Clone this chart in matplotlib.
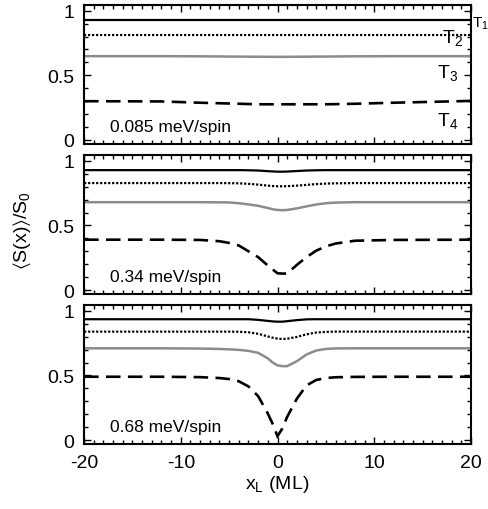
import numpy as np
import matplotlib
matplotlib.use("Agg")
import matplotlib.pyplot as plt
from matplotlib.ticker import MultipleLocator

plt.rcParams['font.family'] = ['Liberation Sans', 'DejaVu Sans']
plt.rcParams['mathtext.fontset'] = 'custom'
plt.rcParams['mathtext.rm'] = 'Liberation Sans'
plt.rcParams['mathtext.default'] = 'regular'
plt.rcParams['axes.unicode_minus'] = False

# position x_L (ML), shared by all curves
x = [-20, -12, -8, -6, -5, -4, -3, -2, -1, -0.5, 0, 0.5, 1, 2, 3, 4, 5, 6, 8, 12, 20]

# panel 1: 0.085 meV/spin
p1_T1 = [0.925] * 21
p1_T2 = [0.815] * 21
p1_T3 = [0.648, 0.648, 0.647, 0.646, 0.645, 0.645, 0.644, 0.644, 0.643, 0.643, 0.643,
         0.643, 0.643, 0.644, 0.644, 0.645, 0.645, 0.646, 0.647, 0.648, 0.648]
p1_T4 = [0.300, 0.298, 0.288, 0.284, 0.282, 0.280, 0.278, 0.276, 0.276, 0.276, 0.276,
         0.276, 0.276, 0.276, 0.276, 0.276, 0.276, 0.277, 0.280, 0.288, 0.302]

# panel 2: 0.34 meV/spin
p2_T1 = [0.928, 0.928, 0.928, 0.928, 0.928, 0.928, 0.927, 0.925, 0.920, 0.918, 0.916,
         0.916, 0.917, 0.921, 0.925, 0.927, 0.928, 0.928, 0.928, 0.928, 0.928]
p2_T2 = [0.828, 0.828, 0.828, 0.828, 0.827, 0.826, 0.822, 0.816, 0.808, 0.805, 0.803,
         0.803, 0.804, 0.808, 0.814, 0.820, 0.824, 0.826, 0.828, 0.828, 0.828]
p2_T3 = [0.680, 0.680, 0.680, 0.679, 0.678, 0.672, 0.663, 0.652, 0.635, 0.625, 0.620,
         0.618, 0.620, 0.632, 0.648, 0.662, 0.672, 0.677, 0.680, 0.680, 0.680]
p2_T4 = [0.390, 0.390, 0.388, 0.378, 0.365, 0.345, 0.300, 0.255, 0.190, 0.160, 0.130,
         0.128, 0.128, 0.195, 0.255, 0.305, 0.338, 0.360, 0.382, 0.388, 0.390]

# panel 3: 0.68 meV/spin
p3_T1 = [0.935, 0.935, 0.935, 0.935, 0.935, 0.935, 0.935, 0.930, 0.922, 0.918, 0.916,
         0.916, 0.920, 0.928, 0.934, 0.935, 0.935, 0.935, 0.935, 0.935, 0.935]
p3_T2 = [0.839, 0.839, 0.839, 0.839, 0.839, 0.838, 0.834, 0.822, 0.802, 0.792, 0.785,
         0.782, 0.784, 0.798, 0.818, 0.832, 0.837, 0.839, 0.839, 0.839, 0.839]
p3_T3 = [0.710, 0.710, 0.708, 0.705, 0.702, 0.698, 0.690, 0.675, 0.632, 0.600, 0.578,
         0.572, 0.572, 0.610, 0.662, 0.693, 0.705, 0.709, 0.710, 0.710, 0.710]
p3_T4 = [0.490, 0.490, 0.487, 0.480, 0.472, 0.455, 0.415, 0.340, 0.205, 0.125, 0.030,
         0.090, 0.180, 0.320, 0.423, 0.465, 0.480, 0.486, 0.489, 0.490, 0.490]

panels = [(p1_T1, p1_T2, p1_T3, p1_T4, '0.085 meV/spin'),
          (p2_T1, p2_T2, p2_T3, p2_T4, '0.34 meV/spin'),
          (p3_T1, p3_T2, p3_T3, p3_T4, '0.68 meV/spin')]

fig = plt.figure(figsize=(4.89, 5.10), dpi=100)
left, width, height = 0.172, 0.791, 0.2725
bottoms = [0.716, 0.4216, 0.1275]

axes = []
for i, (t1, t2, t3, t4, lab) in enumerate(panels):
    ax = fig.add_axes([left, bottoms[i], width, height])
    ax.plot(x, t1, color='black', lw=1.6, solid_joinstyle='round')
    ax.plot(x, t2, color='black', lw=1.6, linestyle=(0, (1, 0.8)))
    ax.plot(x, t3, color='#8c8c8c', lw=1.8)
    ax.plot(x, t4, color='black', lw=1.9, linestyle=(0, (5.5, 2.8)),
            dash_joinstyle='miter')
    ax.set_xlim(-20, 20)
    ax.set_ylim(-0.03, 1.045)
    ax.xaxis.set_major_locator(MultipleLocator(10))
    ax.xaxis.set_minor_locator(MultipleLocator(1))
    ax.set_yticks([0, 0.5, 1])
    ax.set_yticklabels(['0', '0.5', '1'])
    ax.yaxis.set_minor_locator(MultipleLocator(0.1))
    ax.tick_params(which='both', direction='in', top=True, right=True,
                   labelsize=14, width=1.0)
    ax.tick_params(which='major', length=5, pad=7)
    ax.tick_params(which='minor', length=3)
    for s in ax.spines.values():
        s.set_linewidth(1.5)
    ax.text(-17.3, 0.07, lab, fontsize=12.5, ha='left', va='baseline')
    if i < 2:
        ax.tick_params(labelbottom=False)
    axes.append(ax)

ax1 = axes[0]
ax1.text(20.15, 0.875, '$T_1$', fontsize=11, ha='left', va='baseline', clip_on=False)
ax1.text(17.0, 0.76, '$T_2$', fontsize=14, ha='left', va='baseline')
ax1.text(16.5, 0.49, '$T_3$', fontsize=14, ha='left', va='baseline')
ax1.text(16.5, 0.113, '$T_4$', fontsize=14, ha='left', va='baseline')

axes[2].set_xlabel('x$_L$ (ML)', fontsize=14, labelpad=2)
fig.text(22 / 489, 1 - 231 / 510, r'$\langle$S(x)$\rangle$/S$_0$', fontsize=14,
         rotation=90, ha='center', va='center')

fig.savefig('out.png', dpi=100)
